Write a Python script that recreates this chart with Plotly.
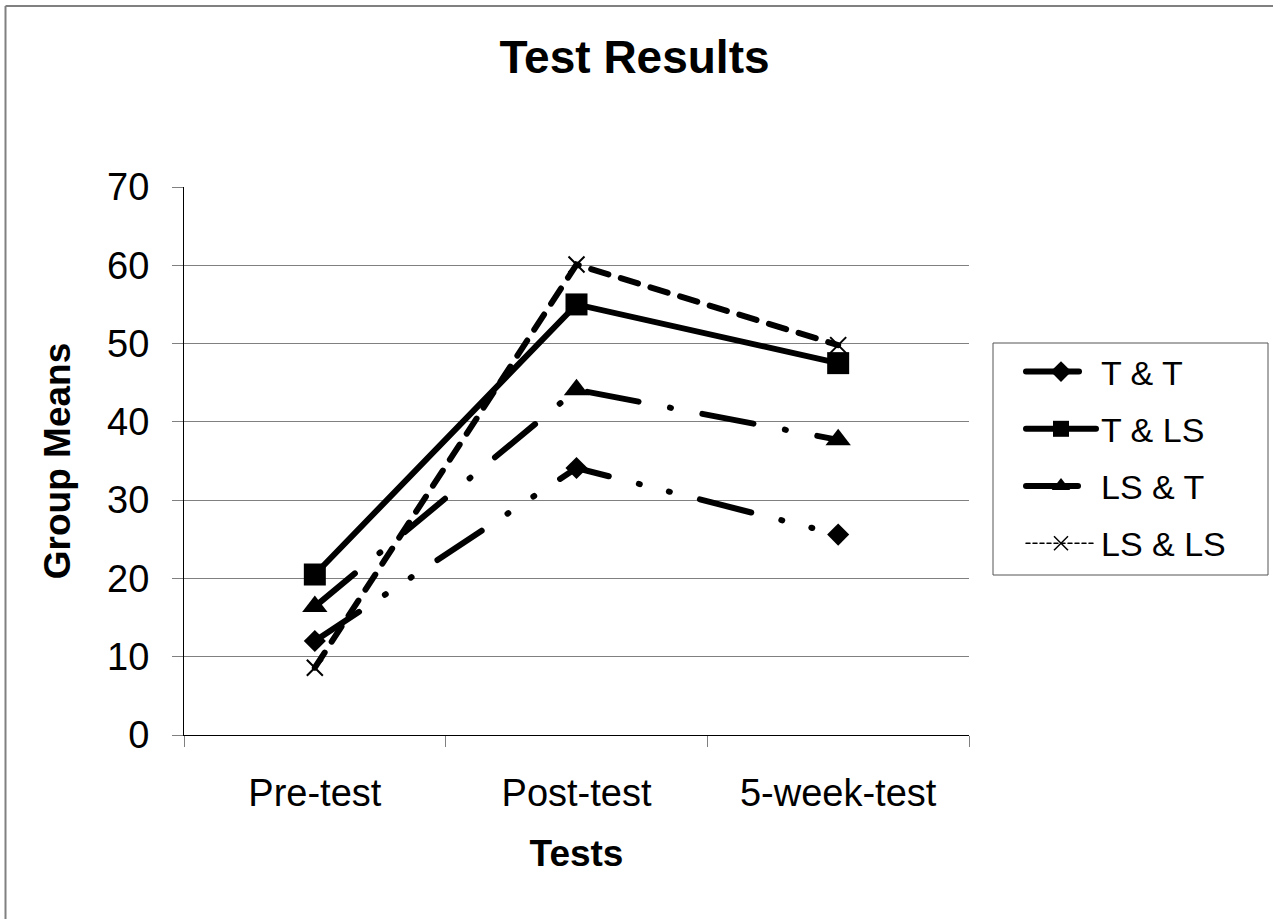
import plotly.graph_objects as go

# ---- data ----
tests = ["Pre-test", "Post-test", "5-week-test"]
names = ["T & T", "T & LS", "LS & T", "LS & LS"]
t_t = [12.0, 34.1, 25.6]
t_ls = [20.5, 55.0, 47.5]
ls_t = [16.4, 44.1, 37.7]
ls_ls = [8.6, 60.1, 49.8]
y_ticks = [0, 10, 20, 30, 40, 50, 60, 70]
grid_ticks = [10, 20, 30, 40, 50, 60]

FONT = "Liberation Sans, Arial, sans-serif"
W, H = 1273, 919
L, R, T, B = 184, 304, 187, 184
PW, PH = W - L - R, H - T - B

fig = go.Figure()

fig.add_trace(go.Scatter(
    x=tests, y=t_t, name=names[0], mode="lines+markers", legendgroup="g1",
    line=dict(color="black", width=6, dash="53px,31px,1px,30px,1px,31px"),
    marker=dict(symbol="diamond", size=17, color="black")))
fig.add_trace(go.Scatter(
    x=tests, y=t_ls, name=names[1], mode="lines+markers", legendgroup="g2",
    line=dict(color="black", width=6),
    marker=dict(symbol="square", size=22, color="black")))
fig.add_trace(go.Scatter(
    x=tests, y=ls_t, name=names[2], mode="lines+markers", legendgroup="g3",
    line=dict(color="black", width=6, dash="52px,32px,1px,32px"),
    marker=dict(symbol="triangle-up", size=22, color="black")))
fig.add_trace(go.Scatter(
    x=tests, y=ls_ls, name=names[3], mode="lines+markers", legendgroup="g4",
    showlegend=False,
    line=dict(color="black", width=6, dash="18px,13px"),
    marker=dict(symbol="x-thin", size=16, color="black",
                line=dict(width=2, color="black"))))
# legend entry for LS & LS (thin dashed as in the reference legend);
# it lives on the grid axis (y2) so that axis gets drawn
fig.add_trace(go.Scatter(
    x=[None], y=[None], yaxis="y2", name=names[3], mode="lines+markers", legendgroup="g4",
    line=dict(color="black", width=1.5, dash="4px,3px"),
    marker=dict(symbol="x-thin", size=14, color="black",
                line=dict(width=1.5, color="black"))))

# frame lines (left and top edges of the chart area)
fig.add_shape(type="line", xref="paper", yref="paper",
              x0=(5.5 - L) / PW, x1=(5.5 - L) / PW,
              y0=(H - B - 6) / PH, y1=-1, line=dict(color="#808080", width=2))
fig.add_shape(type="line", xref="paper", yref="paper",
              x0=(5.5 - L) / PW, x1=(W + 10 - L) / PW,
              y0=(H - B - 6) / PH, y1=(H - B - 6) / PH,
              line=dict(color="#808080", width=2))
# legend box
fig.add_shape(type="rect", xref="paper", yref="paper",
              x0=(993 - L) / PW, x1=(1268 - L) / PW,
              y0=(H - B - 575) / PH, y1=(H - B - 343) / PH,
              line=dict(color="#555555", width=1), fillcolor="rgba(0,0,0,0)")

fig.update_layout(
    width=W, height=H,
    margin=dict(l=L, r=R, t=T, b=B),
    paper_bgcolor="white", plot_bgcolor="white",
    font=dict(family=FONT, color="black"),
    title=dict(text="<b>Test Results</b>", font=dict(size=46, family=FONT, color="black"),
               x=634.5 / W, xanchor="center", xref="container",
               y=1 - 57 / H, yanchor="middle", yref="container"),
    showlegend=True,
    legend=dict(x=(993 - L) / PW, xanchor="left", y=(H - B - 343) / PH, yanchor="top",
                borderwidth=0, bgcolor="rgba(0,0,0,0)",
                font=dict(size=34, family=FONT, color="black"),
                itemwidth=70, indentation=28, tracegroupgap=10, traceorder="grouped"),
    xaxis=dict(
        type="category", range=[-0.5, 2.5], showgrid=False, zeroline=False,
        showline=True, linecolor="black", linewidth=1,
        ticks="outside", ticklen=11, tickcolor="#808080", tickwidth=1,
        tickson="boundaries", ticklabelstandoff=24,
        tickfont=dict(size=38, family=FONT, color="black"),
        title=dict(text="<b>Tests</b>", font=dict(size=37, family=FONT, color="black"), standoff=27)),
    yaxis=dict(
        range=[0, 70], tickvals=y_ticks, showgrid=False, zeroline=False,
        showline=True, linecolor="black", linewidth=1,
        ticks="outside", ticklen=11, tickcolor="#808080", tickwidth=1,
        ticklabelstandoff=15,
        tickfont=dict(size=38, family=FONT, color="black"),
        title=dict(text="<b>Group Means</b>", font=dict(size=37, family=FONT, color="black"), standoff=25)),
    yaxis2=dict(
        overlaying="y", range=[0, 70], tickvals=grid_ticks, showgrid=True,
        gridcolor="#808080", gridwidth=1, showticklabels=False, ticks="",
        showline=False, zeroline=False),
)

post = """
document.body.style.margin='0';
document.querySelectorAll('.js-line').forEach(function(p){p.style.strokeLinecap='round';});
"""
fig.write_html("out.html", post_script=post, config={"displayModeBar": False})
